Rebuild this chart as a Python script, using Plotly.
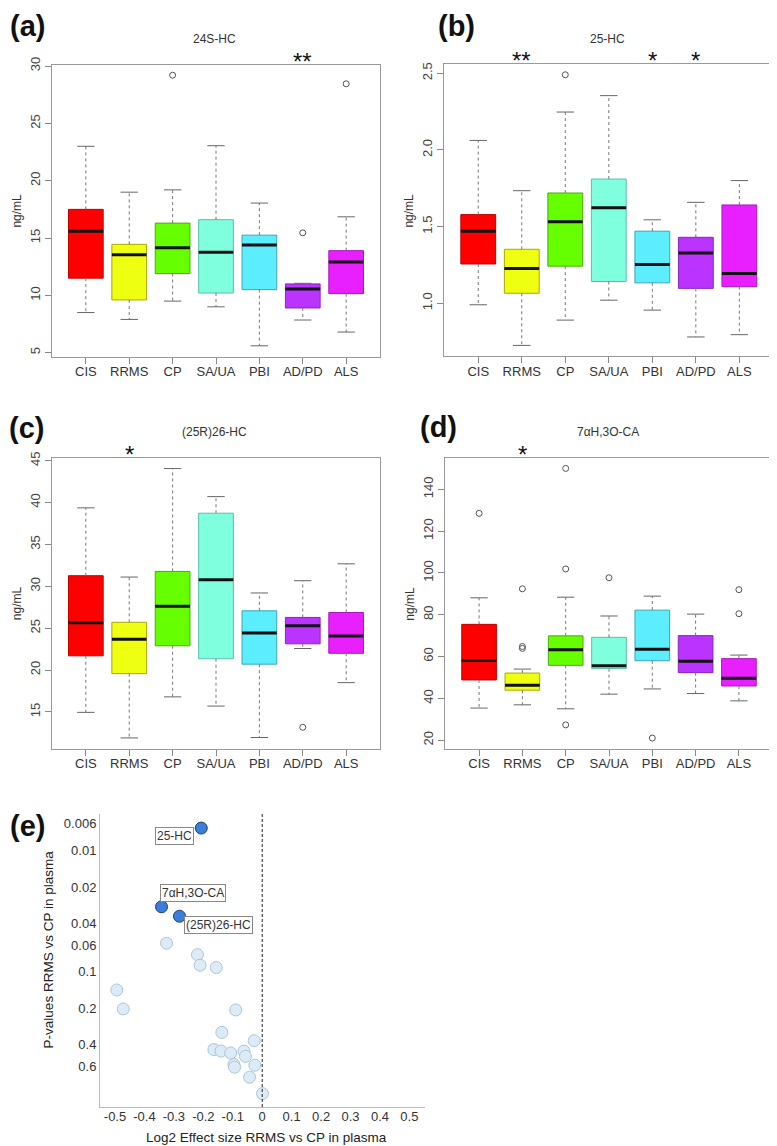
import numpy as np
import plotly.graph_objects as go

W, H = 777, 1146
OFF = 8  # default body margin of the html page
FONT = "Liberation Sans, Arial, sans-serif"
NARROW = "Liberation Sans Narrow, Liberation Sans, Arial, sans-serif"

# ---- box plot data (ng/mL) ----
GROUPS = ["CIS", "RRMS", "CP", "SA/UA", "PBI", "AD/PD", "ALS"]
COLORS = ["#ff0000", "#eeff11", "#66ff00", "#7fffdd", "#5ceeff", "#bb33ff", "#e81fff"]
EDGES = ["#c00000", "#a9a900", "#4caa10", "#5cbfa6", "#3aa6b8", "#8a25bb", "#aa18bb"]

HC24_LOW = [8.5, 7.9, 9.5, 9.0, 5.6, 7.85, 6.8]
HC24_Q1 = [11.5, 9.6, 11.9, 10.2, 10.5, 8.9, 10.15]
HC24_MED = [15.6, 13.55, 14.15, 13.75, 14.4, 10.55, 12.9]
HC24_Q3 = [17.5, 14.45, 16.3, 16.6, 15.25, 11.0, 13.9]
HC24_HIGH = [23.0, 19.0, 19.2, 23.05, 18.05, 11.05, 16.85]
HC24_OUT = [[], [], [29.2], [], [], [15.45], [28.45]]
HC24_STARS = ["", "", "", "", "", "**", ""]

HC25_LOW = [0.99, 0.725, 0.89, 1.02, 0.955, 0.78, 0.795]
HC25_Q1 = [1.256, 1.065, 1.242, 1.142, 1.133, 1.097, 1.108]
HC25_MED = [1.47, 1.227, 1.531, 1.622, 1.253, 1.328, 1.194]
HC25_Q3 = [1.578, 1.352, 1.719, 1.81, 1.47, 1.43, 1.641]
HC25_HIGH = [2.062, 1.734, 2.247, 2.354, 1.544, 1.658, 1.80]
HC25_OUT = [[], [], [2.49], [], [], [], []]
HC25_STARS = ["", "**", "", "", "*", "*", ""]

HC26_LOW = [14.95, 11.9, 16.8, 15.7, 11.95, 22.57, 18.5]
HC26_Q1 = [21.7, 19.57, 22.9, 21.35, 20.7, 23.13, 22.0]
HC26_MED = [25.65, 23.67, 27.6, 30.78, 24.43, 25.3, 24.07]
HC26_Q3 = [31.26, 25.7, 31.77, 38.72, 27.07, 26.28, 26.87]
HC26_HIGH = [39.36, 31.1, 44.05, 40.7, 29.2, 30.66, 32.68]
HC26_OUT = [[], [], [], [], [], [13.17], []]
HC26_STARS = ["", "*", "", "", "", "", ""]

CA_LOW = [35.35, 36.9, 35.0, 42.0, 44.5, 42.3, 38.8]
CA_Q1 = [48.8, 43.9, 55.8, 54.2, 58.0, 52.3, 45.9]
CA_MED = [58.1, 46.3, 63.2, 55.6, 63.5, 57.8, 49.6]
CA_Q3 = [75.4, 52.1, 69.9, 69.2, 82.2, 70.0, 59.0]
CA_HIGH = [88.1, 54.0, 88.4, 79.4, 88.9, 80.3, 60.7]
CA_OUT = [[128.5], [92.4, 64.8, 63.9], [150.0, 101.9, 27.3], [97.7], [21.0], [], [92.0, 80.5]]
CA_STARS = ["", "*", "", "", "", "", ""]

# ---- volcano data (panel e) ----
SIG_NAMES = ["25-HC", "7αH,3O-CA", "(25R)26-HC"]
SIG_EFFECT = [-0.207, -0.342, -0.281]
SIG_P = [0.0065, 0.029, 0.0347]
NS_EFFECT = [-0.325, -0.220, -0.211, -0.156, -0.494, -0.472, -0.090, -0.137, -0.027, -0.164,
             -0.140, -0.107, -0.062, -0.057, -0.096, -0.094, -0.025, -0.043, 0.001]
NS_P = [0.058, 0.072, 0.088, 0.092, 0.141, 0.202, 0.206, 0.316, 0.370, 0.438,
        0.450, 0.467, 0.450, 0.498, 0.582, 0.612, 0.589, 0.740, 1.01]
P_TICKS = [0.006, 0.01, 0.02, 0.04, 0.06, 0.1, 0.2, 0.4, 0.6]
EFFECT_TICKS = [-0.5, -0.4, -0.3, -0.2, -0.1, 0, 0.1, 0.2, 0.3, 0.4, 0.5]
P_CUTOFF = 0.05

FW, FH = W - OFF, H - OFF


def px_x(p):
    return (p - OFF) / FW


def px_y(p):
    return 1 - (p - OFF) / FH


fig = go.Figure()

# (suffix, data, title, y-range, dtick, tickformat, x-pixels, y-pixels, letter, letter position)
panels = [
    ("", (HC24_LOW, HC24_Q1, HC24_MED, HC24_Q3, HC24_HIGH, HC24_OUT, HC24_STARS),
     "24S-HC", [4.66, 30.12], 5, None, (52, 380), (57, 351), "(a)", (27, 18)),
    ("2", (HC25_LOW, HC25_Q1, HC25_MED, HC25_Q3, HC25_HIGH, HC25_OUT, HC25_STARS),
     "25-HC", [0.654, 2.558], 0.5, ".1f", (444.3, 773.3), (56.7, 350.7), "(b)", (456, 18)),
    ("3", (HC26_LOW, HC26_Q1, HC26_MED, HC26_Q3, HC26_HIGH, HC26_OUT, HC26_STARS),
     "(25R)26-HC", [10.6, 45.36], 5, None, (52, 380), (452.7, 746), "(c)", (26, 423)),
    ("4", (CA_LOW, CA_Q1, CA_MED, CA_Q3, CA_HIGH, CA_OUT, CA_STARS),
     "7αH,3O-CA", [16.0, 154.9], 20, None, (445.3, 772.7), (453.3, 745.7), "(d)", (438, 422)),
]

annotations = []
axis_common = dict(showgrid=False, zeroline=False, showline=True, mirror=True,
                   linecolor="#999", linewidth=1, ticks="outside", ticklen=6,
                   tickcolor="#888")

for suf, data, title, yr, dt, tf, xp, yp, letter, lpos in panels:
    low, q1, med, q3, high, outs, stars = data
    xa, ya = "x" + suf, "y" + suf
    for i, g in enumerate(GROUPS):
        pos = i + 1
        fig.add_trace(go.Box(
            x=[pos], q1=[q1[i]], median=[med[i]], q3=[q3[i]],
            lowerfence=[q1[i]], upperfence=[q3[i]], width=0.8, whiskerwidth=0,
            fillcolor=COLORS[i], line=dict(color=EDGES[i], width=1),
            boxpoints=False, showlegend=False, hoverinfo="skip", xaxis=xa, yaxis=ya))
        fig.add_trace(go.Scatter(
            x=[pos, pos, None, pos, pos], y=[q3[i], high[i], None, q1[i], low[i]],
            mode="lines", line=dict(color="#777", width=1, dash="3px,3px"),
            showlegend=False, hoverinfo="skip", xaxis=xa, yaxis=ya))
        fig.add_trace(go.Scatter(
            x=[pos - 0.2, pos + 0.2, None, pos - 0.2, pos + 0.2],
            y=[high[i], high[i], None, low[i], low[i]],
            mode="lines", line=dict(color="#666", width=1),
            showlegend=False, hoverinfo="skip", xaxis=xa, yaxis=ya))
        fig.add_trace(go.Scatter(
            x=[pos - 0.4, pos + 0.4], y=[med[i], med[i]],
            mode="lines", line=dict(color="#111", width=3),
            showlegend=False, hoverinfo="skip", xaxis=xa, yaxis=ya))
        if outs[i]:
            fig.add_trace(go.Scatter(
                x=[pos] * len(outs[i]), y=outs[i], mode="markers",
                marker=dict(symbol="circle-open", size=6, color="#555", line=dict(width=1)),
                showlegend=False, hoverinfo="skip", xaxis=xa, yaxis=ya))
        if stars[i]:
            annotations.append(dict(
                x=pos, y=1, xref=xa, yref=ya + " domain", xanchor="center", yanchor="bottom",
                yshift=-12, text=stars[i], showarrow=False,
                font=dict(family=FONT, size=24, color="#111")))

    fig.update_layout({
        "xaxis" + suf: dict(axis_common, domain=[px_x(xp[0]), px_x(xp[1])], anchor=ya,
                            range=[0.22, 7.78], tickvals=list(range(1, 8)), ticktext=GROUPS,
                            ticklabelstandoff=-3,
                            tickfont=dict(family=NARROW, size=13, color="#333")),
        "yaxis" + suf: dict(axis_common, domain=[px_y(yp[1]), px_y(yp[0])], anchor=xa,
                            range=yr, dtick=dt, tickformat=tf, tickangle=-90,
                            tickfont=dict(family=NARROW, size=13, color="#444")),
    })
    annotations.append(dict(
        x=px_x((xp[0] + xp[1]) / 2 - 1), y=px_y(yp[0] - 26), xref="paper", yref="paper",
        xanchor="center", yanchor="middle",
        text=title, showarrow=False, font=dict(family=FONT, size=12, color="#333")))
    annotations.append(dict(
        x=px_x(xp[0] - 35), y=px_y((yp[0] + yp[1]) / 2), xref="paper", yref="paper",
        xanchor="center", yanchor="middle",
        text="ng/mL", textangle=-90, showarrow=False,
        font=dict(family=FONT, size=12, color="#333")))
    annotations.append(dict(
        x=px_x(lpos[0]), y=px_y(lpos[1]), xref="paper", yref="paper",
        xanchor="center", yanchor="middle",
        text="<b>" + letter + "</b>", showarrow=False,
        font=dict(family=FONT, size=29, color="#111")))

# ---- panel (e): effect size vs p-value ----
fig.add_trace(go.Scatter(
    x=NS_EFFECT, y=NS_P, mode="markers",
    marker=dict(size=12, color="#dcebf6", line=dict(color="#aac6da", width=1)),
    showlegend=False, hoverinfo="skip", xaxis="x5", yaxis="y5"))
fig.add_trace(go.Scatter(
    x=SIG_EFFECT, y=SIG_P, mode="markers",
    marker=dict(size=12, color="#3b7dd8", line=dict(color="#1d3f70", width=1)),
    showlegend=False, hoverinfo="skip", xaxis="x5", yaxis="y5"))

label_shift = [(-27, -8), (31, 14), (39, -9)]
for name, ex, p, (dx, dy) in zip(SIG_NAMES, SIG_EFFECT, SIG_P, label_shift):
    annotations.append(dict(
        x=ex, y=np.log10(p), xref="x5", yref="y5", text=name, showarrow=False,
        xanchor="center", yanchor="middle",
        xshift=dx, yshift=dy, bgcolor="white", bordercolor="#888", borderwidth=1,
        borderpad=1, font=dict(family=FONT, size=12, color="#333")))

shapes = [
    dict(type="line", xref="x5", yref="y5 domain", x0=0, x1=0, y0=0, y1=1,
         line=dict(color="#222", width=1, dash="3px,2px")),
    dict(type="line", xref="x5 domain", yref="y5", x0=0, x1=1,
         y0=np.log10(P_CUTOFF), y1=np.log10(P_CUTOFF),
         line=dict(color="#222", width=1, dash="3px,2px")),
]

fig.update_layout(
    xaxis5=dict(domain=[px_x(100), px_x(425)], anchor="y5", range=[-0.551, 0.553],
                tickvals=EFFECT_TICKS, ticktext=[("%g" % t) for t in EFFECT_TICKS],
                showgrid=False, zeroline=False, showline=True, linecolor="#bbb",
                ticks="", ticklabelstandoff=-3,
                tickfont=dict(family=FONT, size=13, color="#333")),
    yaxis5=dict(domain=[px_y(1106.7), px_y(811.7)], anchor="x5", type="log",
                range=[0.115, -2.303], tickvals=P_TICKS, ticktext=[str(t) for t in P_TICKS],
                showgrid=False, zeroline=False, showline=True, linecolor="#bbb",
                ticks="", tickfont=dict(family=FONT, size=13, color="#333")),
)
annotations.append(dict(
    x=px_x(266), y=px_y(1137), xref="paper", yref="paper", xanchor="center", yanchor="middle",
    text="Log2 Effect size RRMS vs CP in plasma", showarrow=False,
    font=dict(family=FONT, size=13.5, color="#222")))
annotations.append(dict(
    x=px_x(48), y=px_y(948), xref="paper", yref="paper", xanchor="center", yanchor="middle",
    textangle=-90, text="P-values RRMS vs CP in plasma", showarrow=False,
    font=dict(family=FONT, size=13.5, color="#222")))
annotations.append(dict(
    x=px_x(OFF), y=px_y(824), xref="paper", yref="paper", xanchor="left", yanchor="middle",
    text="<b>(e)</b>", showarrow=False, font=dict(family=FONT, size=29, color="#111")))

fig.update_layout(
    width=FW, height=FH, margin=dict(l=0, r=0, t=0, b=0),
    paper_bgcolor="white", plot_bgcolor="white",
    annotations=annotations, shapes=shapes, boxmode="overlay",
)

fig.write_html("out.html")
